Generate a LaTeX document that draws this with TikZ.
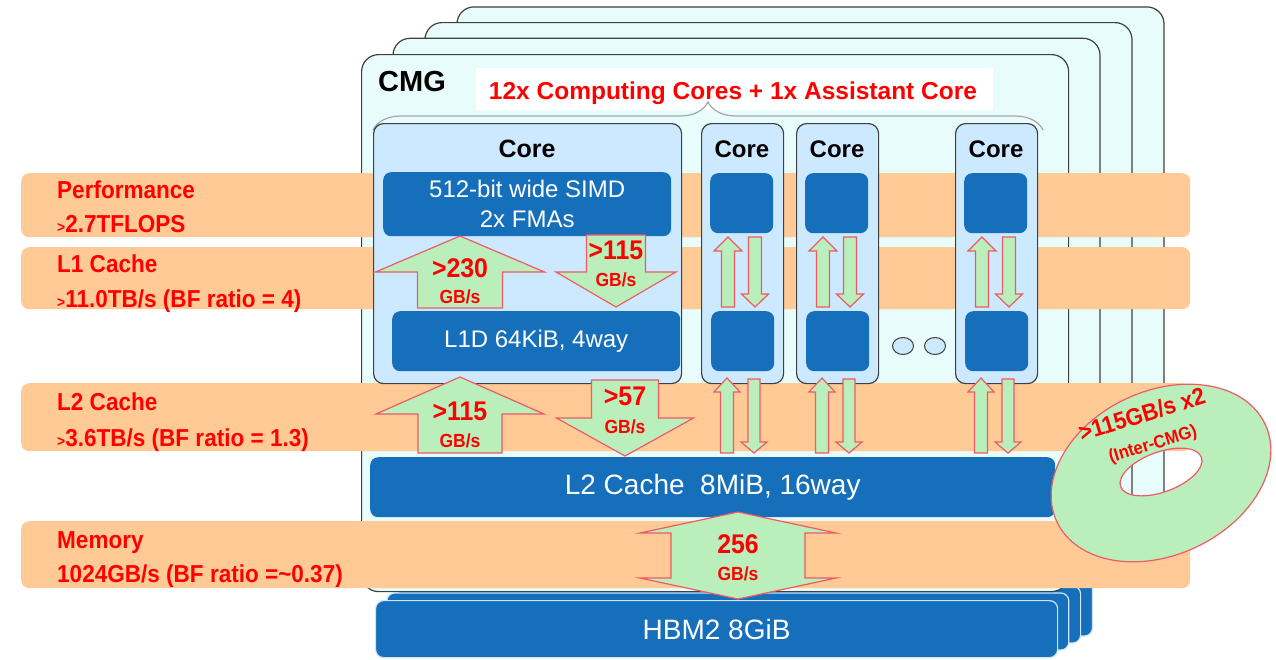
\documentclass[tikz,border=0pt]{standalone}
\usepackage{fontspec}
\setmainfont{Liberation Sans}
\newfontfamily\narrowfont[FakeStretch=0.92]{Liberation Sans}
\usepackage{tikz}
\usetikzlibrary{positioning,calc,shapes.geometric,decorations.pathreplacing}
\definecolor{cmgfill}{RGB}{232,252,252}
\definecolor{corefill}{RGB}{204,233,255}
\definecolor{unitblue}{RGB}{22,111,186}
\definecolor{hbmedge}{RGB}{205,228,248}
\definecolor{bandorange}{RGB}{255,202,150}
\definecolor{bwgreen}{RGB}{186,238,186}
\definecolor{bwred}{RGB}{240,90,100}
\definecolor{edgegray}{RGB}{64,64,64}
\tikzset{%
  cmgbox/.style={draw=edgegray, line width=1.2pt, fill=cmgfill, rounded corners=17pt},
  corebox/.style={draw=edgegray, line width=1.2pt, fill=corefill, rounded corners=10pt, inner sep=0pt},
  unitbox/.style={fill=unitblue, rounded corners=8pt, inner sep=0pt, text=white},
  hbmbox/.style={draw=hbmedge, line width=1.2pt, fill=unitblue, rounded corners=8pt, inner sep=0pt, text=white},
  band/.style={fill=bandorange, rounded corners=8pt, inner sep=0pt},
  bandtext/.style={text=red, inner sep=0pt, anchor=base west,
    font=\narrowfont\bfseries\fontsize{24.5}{28}\selectfont},
  bwnum/.style={text=red, inner sep=0pt, anchor=base,
    font=\narrowfont\bfseries\fontsize{27}{30}\selectfont},
  bwunit/.style={text=red, inner sep=0pt, anchor=base,
    font=\narrowfont\bfseries\fontsize{19}{22}\selectfont},
  bwarrow/.style={draw=bwred, line width=1.2pt, fill=bwgreen},
  donut/.style={draw=bwred, line width=1.2pt, fill=bwgreen, even odd rule},
  corename/.style={inner sep=0pt, anchor=base, font=\bfseries\fontsize{24}{26}\selectfont}
}
% block arrow: centre x, half shaft, half head, tail y, head y, tip y
\newcommand{\blockarrow}[6]{%
  \draw[bwarrow] (#1-#2,#4) -- (#1-#2,#5) -- (#1-#3,#5) -- (#1,#6)
    -- (#1+#3,#5) -- (#1+#2,#5) -- (#1+#2,#4) -- cycle;}
\newcommand{\gt}{{\fontsize{15}{15}\selectfont>}}

\begin{document}
\begin{tikzpicture}[x=1pt, y=-1pt]
  \useasboundingbox (0,0) rectangle (1276,659);

  % HBM stack and CMG stack
  \foreach \k in {3,2,1}
    \draw[hbmbox, xshift=\k*11.8pt, yshift=\k*7pt] (375,600) rectangle (1057,657);
  \foreach \k in {3,2,1}
    \draw[cmgbox, xshift=\k*32pt, yshift=\k*15.7pt] (361,54) rectangle (1068,591);
  \node[cmgbox, anchor=north west, minimum width=707pt, minimum height=537pt] (cmg) at (361,54) {};
  \node[inner sep=0pt, anchor=base west, font=\bfseries\fontsize{29}{30}\selectfont] (cmglabel) at (378,91) {CMG};
  \node[fill=white, inner sep=0pt, anchor=north west, minimum width=517pt, minimum height=42pt] (titlebox) at (476,68) {};
  \draw[gray!70, line width=1.2pt, decorate, decoration={brace, amplitude=28pt}] (373,130) -- (1043,130);
  \node[text=red, inner sep=0pt, anchor=base, font=\bfseries\fontsize{24.5}{26}\selectfont] (title) at (733,99)
    {12x Computing Cores + 1x Assistant Core};

  % bandwidth bands
  \node[band, anchor=north west, minimum width=1169pt, minimum height=64pt] (perf) at (21,173) {};
  \node[band, anchor=north west, minimum width=1169pt, minimum height=62pt] (l1band) at (21,247) {};
  \node[band, anchor=north west, minimum width=1169pt, minimum height=68pt] (l2band) at (21,383) {};
  \node[band, anchor=north west, minimum width=1169pt, minimum height=67pt] (memband) at (21,521) {};
  \node[bandtext] (perfA) at (57,198) {Performance};
  \node[bandtext] (perfB) at (57,232) {\gt2.7TFLOPS};
  \node[bandtext] (l1A) at (57,272) {L1 Cache};
  \node[bandtext] (l1B) at (57,307) {\gt11.0TB/s (BF ratio = 4)};
  \node[bandtext] (l2A) at (57,410) {L2 Cache};
  \node[bandtext] (l2B) at (57,446) {\gt3.6TB/s (BF ratio = 1.3)};
  \node[bandtext] (memA) at (57,548) {Memory};
  \node[bandtext] (memB) at (57,582) {1024GB/s (BF ratio =\textasciitilde0.37)};

  % the big core
  \node[corebox, anchor=north west, minimum width=308pt, minimum height=260pt] (core0) at (373,123) {};
  \node[corename, font=\bfseries\fontsize{25}{26}\selectfont] (core0 label) at (527,157) {Core};
  \node[unitbox, anchor=north west, minimum width=288pt, minimum height=64pt, align=center,
    font=\fontsize{24}{30}\selectfont] (simd) at (383,172) {512-bit wide SIMD\\2x FMAs};
  \node[unitbox, anchor=north west, minimum width=288pt, minimum height=60pt,
    font=\fontsize{24}{28}\selectfont] (l1d) at (392,311) {L1D 64KiB, 4way};
  \blockarrow{460}{42.5}{84.5}{308}{272}{236}
  \blockarrow{616}{29.5}{60}{235}{272}{307}
  \node[bwnum] (ldbw) at (460,277) {>230};
  \node[bwunit] (ldbw unit) at (460,303) {GB/s};
  \node[bwnum] (stbw) at (616,259) {>115};
  \node[bwunit] (stbw unit) at (616,286) {GB/s};

  % the other cores
  \foreach \L [count=\n] in {701,796,955} {
    \node[corebox, anchor=north west, minimum width=82pt, minimum height=260pt] (core\n) at (\L,123) {};
    \node[corename] (core\n label) at (\L+41,157) {Core};
    \node[unitbox, anchor=north west, minimum width=63pt, minimum height=60pt] (core\n exec) at (\L+9,173) {};
    \node[unitbox, anchor=north west, minimum width=63pt, minimum height=60pt] (core\n cache) at (\L+10,311) {};
    \blockarrow{\L+27}{6.5}{14}{307}{251}{237}
    \blockarrow{\L+54}{6.5}{13.5}{237}{294}{307}
    \blockarrow{\L+26}{6.5}{13}{453}{392}{378}
    \blockarrow{\L+53}{6}{13}{379}{442}{453}
  }
  \node[ellipse, draw=edgegray, line width=1pt, fill=corefill, minimum width=21pt, minimum height=17pt] (dotA) at (903,346) {};
  \node[ellipse, draw=edgegray, line width=1pt, fill=corefill, minimum width=21pt, minimum height=17pt] (dotB) at (935,346) {};

  % L2 and memory
  \node[unitbox, anchor=north west, minimum width=685pt, minimum height=60pt,
    font=\fontsize{28}{30}\selectfont] (l2) at (370,457) {L2 Cache\ \ 8MiB, 16way};
  \blockarrow{460}{42}{84}{453}{414}{377}
  \blockarrow{625}{33.5}{68.5}{380}{418}{456}
  \node[bwnum] (l2ld) at (460,420) {>115};
  \node[bwunit] (l2ld unit) at (460,447) {GB/s};
  \node[bwnum] (l2st) at (625,405) {>57};
  \node[bwunit] (l2st unit) at (625,433) {GB/s};
  \node[hbmbox, anchor=north west, minimum width=682pt, minimum height=57pt,
    font=\fontsize{28}{30}\selectfont] (hbm) at (375,600) {HBM2 8GiB};
  \draw[bwarrow] (738,512) -- (836,533) -- (805,533) -- (805,578) -- (836,578) -- (738,599)
    -- (640,578) -- (671,578) -- (671,533) -- (640,533) -- cycle;
  \node[bwnum] (membw) at (738,553) {256};
  \node[bwunit] (membw unit) at (738,580) {GB/s};

  % inter-CMG ring
  \draw[donut] (1161,473) circle [x radius=115pt, y radius=82pt, rotate=25]
    (1161,472) circle [x radius=43pt, y radius=20pt, rotate=20];
  \node[rotate=17, text=red, inner sep=0pt, font=\narrowfont\bfseries\fontsize{24}{26}\selectfont] (ring) at (1142,414) {>115GB/s x2};
  \node[rotate=17, text=red, inner sep=0pt, font=\narrowfont\bfseries\fontsize{18}{20}\selectfont] (ring label) at (1153,445) {(Inter-CMG)};
\end{tikzpicture}
\end{document}
